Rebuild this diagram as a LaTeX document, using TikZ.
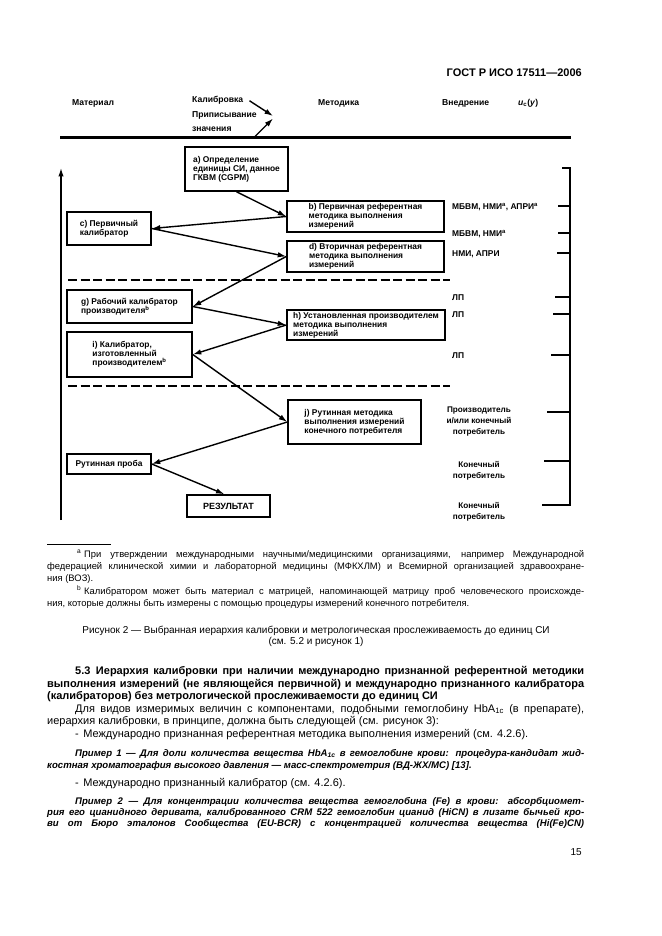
\documentclass[tikz,border=0pt]{standalone}
\usepackage{fontspec}
\setmainfont{Liberation Sans}
\usetikzlibrary{arrows.meta,calc}
\newcommand\fsz[2]{\fontsize{#1}{#2}\selectfont}
\newcommand\jl[2]{\makebox[#1][s]{#2}}
\begin{document}
\begin{tikzpicture}[x=1pt,y=-1pt,
  arr/.style={line width=1.4pt,-{Latex[length=8.5pt,width=5.5pt]}},
  boxn/.style={draw,line width=1.5pt,inner sep=0pt,align=left,font=\fsz{8.4}{9}\bfseries},
  hdr/.style={anchor=base west,inner sep=0pt,font=\fsz{8.6}{10}\bfseries},
  rlab/.style={anchor=base west,inner sep=0pt,font=\fsz{8.4}{10}\bfseries},
  rlabc/.style={inner sep=0pt,align=center,font=\fsz{8.2}{11}\bfseries},
  tk/.style={line width=1.5pt},
  dashln/.style={line width=1.5pt,dash pattern=on 9pt off 3.5pt},
  bodyl/.style={anchor=base west,inner sep=0pt,font=\fsz{11}{12}},
  headl/.style={anchor=base west,inner sep=0pt,font=\fsz{11}{12}\bfseries},
  exl/.style={anchor=base west,inner sep=0pt,font=\fsz{9.6}{11}\bfseries\itshape},
  fnl/.style={anchor=base west,inner sep=0pt,font=\fsz{9.4}{11}},
  capl/.style={anchor=base,inner sep=0pt,font=\fsz{10}{11}},
]
\fill[white] (0,0) rectangle (661,936);
\useasboundingbox (0,0) rectangle (661,936);

% page header
\node[anchor=base east,inner sep=0pt,font=\fsz{11}{13}\bfseries] (gost) at (582,76.5) {ГОСТ Р ИСО 17511—2006};

% column headings
\node[hdr] (mat) at (72,106) {Материал};
\node[hdr] (kal) at (192,103) {Калибровка};
\node[hdr] (pri) at (192,117.5) {Приписывание};
\node[hdr] (zna) at (192,132) {значения};
\node[hdr] (met) at (318,106) {Методика};
\node[hdr] (vne) at (442,106) {Внедрение};
\node[hdr] (uc) at (518,106) {\textit{u}\textsubscript{c}(\textit{y})};

% thick rule and its arrows
\coordinate (tl) at (60,137.5);
\coordinate (tr) at (571,137.5);
\draw[line width=2.2pt] (tl) -- (tr);
\coordinate (t1) at (273,116);
\coordinate (t2) at (273,118.5);
\coordinate (s2) at (254,137.5);
\draw[arr] ($(kal.east)+(6,0)$) -- (t1);
\draw[arr] (s2) -- (t2);

% left vertical arrow
\coordinate (lb) at (61,520);
\coordinate (lt) at (61,168);
\draw[arr] (lb) -- (lt);

% right bracket
\coordinate (bt0) at (562,168);
\coordinate (bt1) at (570,168);
\coordinate (bb1) at (570,505);
\coordinate (bb0) at (542,505);
\draw[tk] (bt0) -- (bt1) -- (bb1) -- (bb0);
\draw[tk] (558,206) -- (570,206);
\draw[tk] (558,233) -- (570,233);
\draw[line width=2pt] (557,253) -- (570,253);
\draw[tk] (555,297) -- (570,297);
\draw[tk] (553,314) -- (570,314);
\draw[tk] (551,355) -- (570,355);
\draw[tk] (547,412) -- (570,412);
\draw[tk] (544,461) -- (570,461);

% right labels
\node[rlab] (r1) at (452,209) {МБВМ, НМИ\textsuperscript{a}, АПРИ\textsuperscript{a}};
\node[rlab] (r2) at (452,236) {МБВМ, НМИ\textsuperscript{a}};
\node[rlab] (r3) at (452,256) {НМИ, АПРИ};
\node[rlab] (r4) at (452,300) {ЛП};
\node[rlab] (r5) at (452,317) {ЛП};
\node[rlab] (r6) at (452,358) {ЛП};
\node[rlabc] (r7) at (479,421.5) {Производитель\\и/или конечный\\потребитель};
\node[rlabc] (r8) at (479,471) {Конечный\\потребитель};
\node[rlabc] (r9) at (479,511.5) {Конечный\\потребитель};

% dashed separators
\draw[dashln] (68,280) -- (450,280);
\draw[dashln] (68,386) -- (450,386);

% boxes
\node[boxn,minimum width=103pt,minimum height=44pt] (a) at (236.5,169) {a) Определение\\единицы СИ, данное\\ГКВМ (CGPM)};
\node[boxn,minimum width=157pt,minimum height=31pt] (b) at (365.5,216.5) {b) Первичная референтная\\методика выполнения\\измерений};
\node[boxn,minimum width=84pt,minimum height=33pt] (c) at (109,228.5) {c) Первичный\\калибратор};
\node[boxn,minimum width=157pt,minimum height=31pt] (d) at (365.5,256.5) {d) Вторичная референтная\\методика выполнения\\измерений};
\node[boxn,minimum width=125pt,minimum height=33pt] (g) at (129.5,306.5) {g) Рабочий калибратор\\производителя\textsuperscript{b}};
\node[boxn,minimum width=158pt,minimum height=30pt] (h) at (366,325) {h) Установленная производителем\\методика выполнения\\измерений};
\node[boxn,minimum width=125pt,minimum height=45pt] (i) at (129.5,354.5) {i) Калибратор,\\изготовленный\\производителем\textsuperscript{b}};
\node[boxn,minimum width=133pt,minimum height=44pt] (j) at (354.5,422) {j) Рутинная методика\\выполнения измерений\\конечного потребителя};
\node[boxn,align=center,minimum width=84pt,minimum height=20pt] (p) at (109,464) {Рутинная проба};
\node[boxn,align=center,minimum width=83pt,minimum height=22pt,font=\fsz{9}{10}\bfseries] (r) at (228.5,506) {РЕЗУЛЬТАТ};

% connectors
\draw[arr] (a.south) -- (b.west);
\draw[arr] (b.west) -- (c.east);
\draw[arr] (c.east) -- (d.west);
\draw[arr] (d.west) -- (g.east);
\draw[arr] (g.east) -- (h.west);
\draw[arr] (h.west) -- (i.east);
\draw[arr] (i.east) -- (j.west);
\draw[arr] (j.west) -- (p.east);
\draw[arr] (p.east) -- ($(r.north)+(-4,0)$);

% footnotes
\coordinate (fr0) at (47,544);
\coordinate (fr1) at (111,544);
\draw[line width=0.6pt] (fr0) -- (fr1);
\node[fnl] (fa0) at (77,557) {\textsuperscript{a}};
\node[fnl] (fa1) at (84,557) {\jl{500pt}{При утверждении международными научными/медицинскими организациями, например Международной}};
\node[fnl] (fa2) at (47,569) {\jl{537pt}{федерацией клинической химии и лабораторной медицины (МФКХЛМ) и Всемирной организацией здравоохране-}};
\node[fnl] (fa3) at (47,581) {ния (ВОЗ).};
\node[fnl] (fb0) at (77,594) {\textsuperscript{b}};
\node[fnl] (fb1) at (84,594) {\jl{500pt}{Калибратором может быть материал с матрицей, напоминающей матрицу проб человеческого происхожде-}};
\node[fnl] (fb2) at (47,606) {ния, которые должны быть измерены с помощью процедуры измерений конечного потребителя.};

% caption
\node[capl] (cap1) at (316,633) {Рисунок 2 — Выбранная иерархия калибровки и метрологическая прослеживаемость до единиц СИ};
\node[capl] (cap2) at (316,644.5) {(см. 5.2 и рисунок 1)};

% body text
\node[headl] (h1) at (75,674.5) {\jl{509pt}{5.3\hspace{0.5em}Иерархия калибровки при наличии международно признанной референтной методики}};
\node[headl] (h2) at (47,687) {\jl{537pt}{выполнения измерений (не являющейся первичной) и международно признанного калибратора}};
\node[headl] (h3) at (47,699.5) {(калибраторов) без метрологической прослеживаемости до единиц СИ};
\node[bodyl] (p1) at (75,712) {\jl{509pt}{Для видов измеримых величин с компонентами, подобными гемоглобину HbA\textsubscript{1c} (в препарате),}};
\node[bodyl] (p2) at (47,724.5) {иерархия калибровки, в принципе, должна быть следующей (см. рисунок 3):};
\node[bodyl] (p3) at (75,737) {-\hspace{0.4em}Международно признанная референтная методика выполнения измерений (см. 4.2.6).};
\node[exl] (e1) at (75,756) {\jl{509pt}{Пример 1 — Для доли количества вещества HbA\textsubscript{1c} в гемоглобине крови: процедура-кандидат жид-}};
\node[exl] (e2) at (47,768) {костная хроматография высокого давления — масс-спектрометрия (ВД-ЖХ/МС) [13].};
\node[bodyl] (p4) at (75,786.5) {-\hspace{0.4em}Международно признанный калибратор (см. 4.2.6).};
\node[exl] (e3) at (75,804) {\jl{509pt}{Пример 2 — Для концентрации количества вещества гемоглобина (Fe) в крови: абсорбциомет-}};
\node[exl] (e4) at (47,815) {\jl{537pt}{рия его цианидного деривата, калиброванного CRM 522 гемоглобин цианид (HiCN) в лизате бычьей кро-}};
\node[exl] (e5) at (47,826.5) {\jl{537pt}{ви от Бюро эталонов Сообщества (EU-BCR) с концентрацией количества вещества (Hi(Fe)CN)}};

% page number
\node[anchor=base east,inner sep=0pt,font=\fsz{10}{12}] (pg) at (582,855) {15};
\end{tikzpicture}
\end{document}
